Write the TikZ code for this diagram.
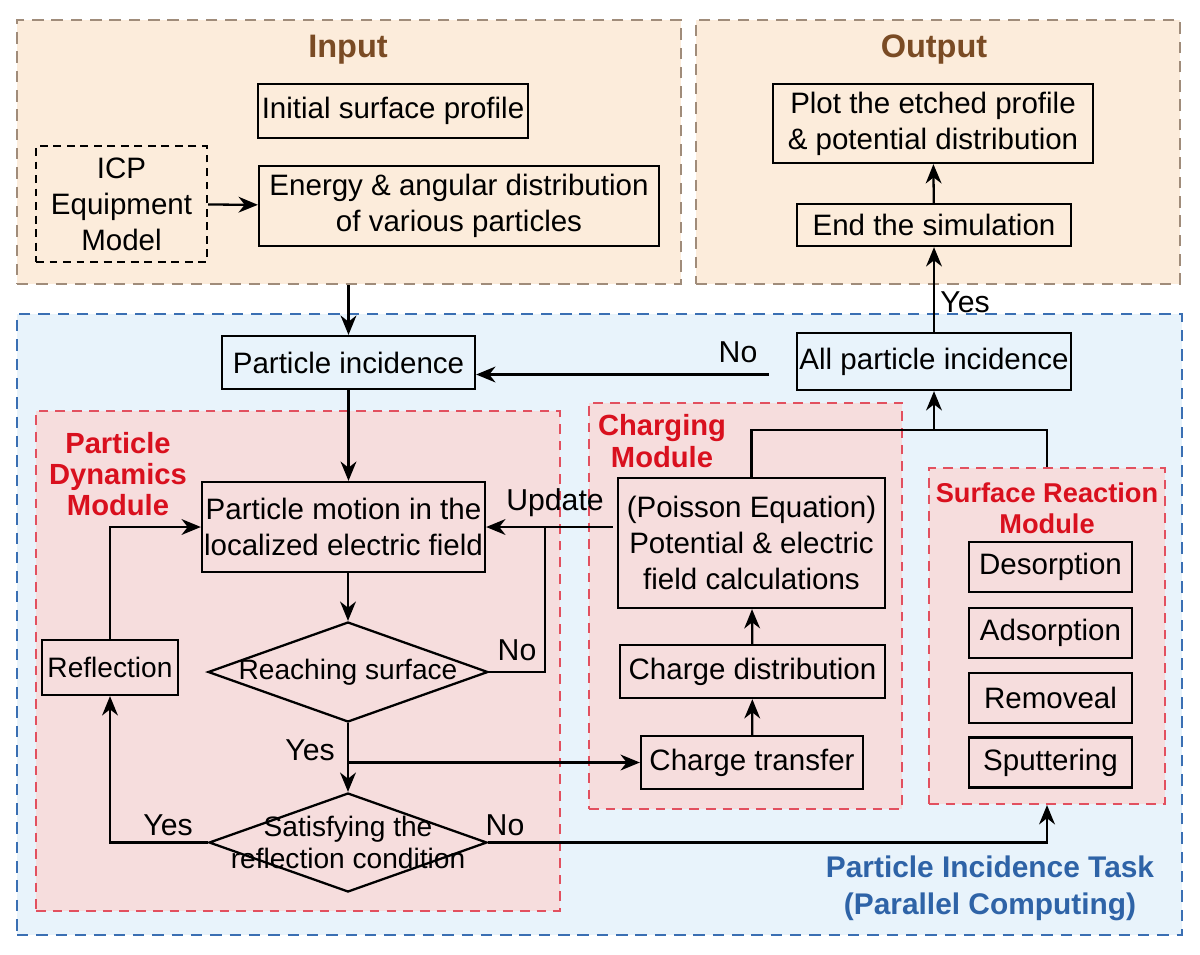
\documentclass[tikz,border=0pt]{standalone}
\usepackage{fontspec}
\setmainfont{Liberation Sans}
\usetikzlibrary{arrows.meta,shapes.geometric,calc}

\definecolor{iofill}{HTML}{FCECDB}
\definecolor{iobrd}{HTML}{A08C7A}
\definecolor{iotxt}{HTML}{7A4B24}
\definecolor{taskfill}{HTML}{E8F3FB}
\definecolor{taskbrd}{HTML}{3A6FB3}
\definecolor{tasktxt}{HTML}{2E63A7}
\definecolor{modfill}{HTML}{F6DDDD}
\definecolor{modbrd}{HTML}{E2505F}
\definecolor{modtxt}{HTML}{D9101E}

\tikzset{
  sz/.style 2 args={minimum width=#1*0.02cm, minimum height=#2*0.02cm},
  frame/.style={rectangle, draw, inner sep=0pt, line width=1.2pt, dash pattern=on 6.5pt off 4.5pt},
  ioframe/.style={frame, draw=iobrd, fill=iofill},
  taskframe/.style={frame, draw=taskbrd, fill=taskfill},
  modframe/.style={frame, draw=modbrd, fill=modfill, dash pattern=on 5.5pt off 4pt},
  box/.style={rectangle, draw, line width=1.3pt, inner sep=0pt, align=center, font=\fontsize{16.8}{20.4}\selectfont},
  dbox/.style={box, dash pattern=on 4.5pt off 3.2pt},
  dec/.style={diamond, draw, line width=1.3pt, inner sep=0pt},
  dtext/.style={align=center, font=\fontsize{16}{18.5}\selectfont},
  iotitle/.style={text=iotxt, font=\fontsize{18.5}{22}\selectfont\bfseries},
  modtitle/.style={text=modtxt, align=center, font=\fontsize{16.6}{17.8}\selectfont\bfseries},
  tasktitle/.style={text=tasktxt, align=center, font=\fontsize{17}{21}\selectfont\bfseries},
  lbl/.style={font=\fontsize{17.2}{20}\selectfont},
  ln/.style={line width=1.3pt},
  arr/.style={ln, -{Stealth[length=11pt, width=9pt, inset=3.5pt]}},
}

\begin{document}
\begin{tikzpicture}[x=0.02cm, y=-0.02cm]
\useasboundingbox (0,0) rectangle (1200,954);

\node[ioframe, sz={664}{264}] (input) at (349,152) {};
\node[ioframe, sz={484}{264}] (output) at (938,152) {};
\node[taskframe, sz={1165}{621}] (task) at (599.5,624.5) {};
\node[modframe, sz={524}{500}] (dyn) at (298,661) {};
\node[modframe, sz={313}{406}] (chg) at (745.5,606) {};
\node[modframe, sz={236}{336}] (surf) at (1047,636) {};

\node[iotitle] (intitle) at (348,50) {Input};
\node[iotitle] (outtitle) at (934,50) {Output};
\node[modtitle] (dyntitle) at (118,474) {Particle\\Dynamics\\Module};
\node[modtitle] (chgtitle) at (662,441) {Charging\\Module};
\node[modtitle, font=\fontsize{15.5}{17.6}\selectfont\bfseries] (surftitle) at (1047,508) {Surface Reaction\\Module};
\node[tasktitle] (tasktitle) at (990,888) {Particle Incidence Task\\(Parallel Computing)};

\node[box, sz={270}{54}] (init) at (393,111) {Initial surface profile};
\node[dbox, sz={171}{116}] (icp) at (121.5,204) {ICP\\Equipment\\Model};
\node[box, sz={400}{80}] (energy) at (459,206) {Energy \& angular distribution\\of various particles};
\node[box, sz={320}{79}] (plot) at (933,123.5) {Plot the etched profile\\\& potential distribution};
\node[box, sz={274}{42}] (endsim) at (934,225) {End the simulation};
\node[box, sz={274}{57}] (allinc) at (934,361.5) {All particle incidence};
\node[box, sz={253}{53}] (pinc) at (348.5,362.5) {Particle incidence};
\node[box, sz={283}{90}] (motion) at (343.5,527) {Particle motion in the\\localized electric field};
\node[dec, sz={280}{100}, label={[dtext]center:Reaching surface}] (reach) at (348,672) {};
\node[box, sz={136}{55}, font=\fontsize{16}{18.5}\selectfont] (reflect) at (110,667.5) {Reflection};
\node[dec, sz={278}{99}, label={[dtext]center:Satisfying the\\reflection condition}] (satisfy) at (348,842.5) {};
\node[box, sz={267}{130}] (poisson) at (751.5,543) {(Poisson Equation)\\Potential \& electric\\field calculations};
\node[box, sz={265}{53}] (chdist) at (752.5,671.5) {Charge distribution};
\node[box, sz={222}{53}] (chtrans) at (752,762.5) {Charge transfer};
\node[box, sz={163}{50}] (desorp) at (1050.5,567) {Desorption};
\node[box, sz={163}{50}] (adsorp) at (1050.5,633) {Adsorption};
\node[box, sz={163}{50}] (remov) at (1050.5,698) {Removeal};
\node[box, sz={163}{50}] (sputter) at (1050.5,762.5) {Sputtering};

\coordinate (jn) at (allinc.south |- 0,430);

\draw[arr] (icp) -- (energy);
\draw[arr] (input.south -| pinc.north) -- (pinc.north);
\draw[arr] (endsim) -- (plot);
\draw[arr] (allinc) -- (endsim);
\draw[arr] ($(allinc.west)+(-27,13)$) -- ($(pinc.east)+(0,12)$);
\draw[arr] (pinc) -- (motion.north -| pinc.south);
\draw[arr] (motion.south -| reach.north) -- (reach.north);
\draw[arr] ($(poisson.west |- motion.east)+(-4,0)$) -- (motion.east);
\draw[ln] (reach.east) -| ($(motion.east)+(59,0)$);
\draw[arr] (reflect.north) |- (motion.west);
\draw[arr] (reach.south) -- (satisfy.north);
\draw[arr] (reach.south |- chtrans.west) -- (chtrans.west);
\draw[arr] (satisfy.west) -| (reflect.south);
\draw[arr] (satisfy.east) -| (surf.south);
\draw[arr] (chtrans) -- (chdist);
\draw[arr] (chdist) -- (poisson);
\draw[ln] (poisson.north) |- (jn) -| (surf.north);
\draw[arr] (jn) -- (allinc.south);

\node[lbl] (yes1) at (965,302) {Yes};
\node[lbl] (no1) at (738,352) {No};
\node[lbl] (upd) at (555,503) {Update};
\node[lbl] (no2) at (517,650) {No};
\node[lbl] (yes2) at (310,750) {Yes};
\node[lbl] (yes3) at (168,825) {Yes};
\node[lbl] (no3) at (505,825) {No};
\end{tikzpicture}
\end{document}
